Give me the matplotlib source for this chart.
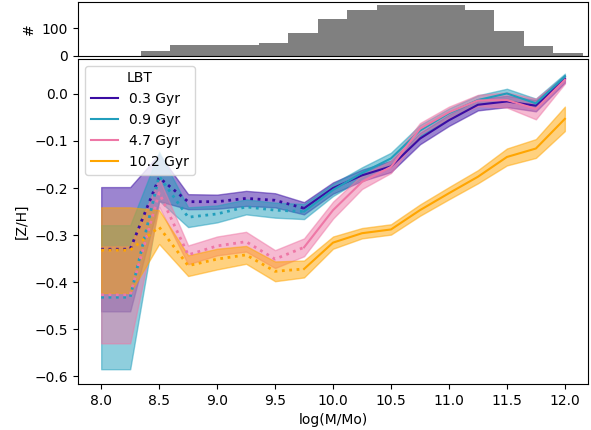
import numpy as np
import matplotlib
matplotlib.use('Agg')
import matplotlib.pyplot as plt

# mass bins
logm = [8.0, 8.25, 8.5, 8.75, 9.0, 9.25, 9.5, 9.75, 10.0, 10.25, 10.5, 10.75, 11.0, 11.25, 11.5, 11.75, 12.0]

# galaxy counts per bin (top panel)
hist_centres = [8.5, 8.75, 9.0, 9.25, 9.5, 9.75, 10.0, 10.25, 10.5, 10.75, 11.0, 11.25, 11.5, 11.75, 12.0]
hist_counts = [19, 38, 38, 38, 48, 84, 135, 167, 185, 185, 185, 167, 91, 34, 12]

labels = ['0.3 Gyr', '0.9 Gyr', '4.7 Gyr', '10.2 Gyr']
colors = ['#3a0ca3', '#219ebc', '#ee77a6', '#ffa500']

zh_03 = [-0.330, -0.330, -0.178, -0.229, -0.229, -0.222, -0.226, -0.243, -0.200, -0.173, -0.154, -0.095, -0.056, -0.023, -0.016, -0.025, 0.032]
err_03 = [0.132, 0.132, 0.050, 0.016, 0.015, 0.016, 0.015, 0.013, 0.012, 0.012, 0.012, 0.012, 0.012, 0.012, 0.012, 0.012, 0.008]

zh_09 = [-0.432, -0.432, -0.175, -0.262, -0.255, -0.240, -0.247, -0.250, -0.204, -0.168, -0.137, -0.078, -0.041, -0.013, 0.001, -0.020, 0.037]
err_09 = [0.153, 0.153, 0.052, 0.021, 0.018, 0.016, 0.016, 0.016, 0.013, 0.012, 0.012, 0.012, 0.010, 0.010, 0.010, 0.010, 0.006]

zh_47 = [-0.427, -0.427, -0.210, -0.342, -0.323, -0.314, -0.351, -0.326, -0.247, -0.187, -0.155, -0.074, -0.039, -0.014, -0.013, -0.032, 0.030]
err_47 = [0.103, 0.103, 0.030, 0.020, 0.020, 0.021, 0.019, 0.019, 0.018, 0.015, 0.013, 0.012, 0.012, 0.012, 0.016, 0.022, 0.008]

zh_102 = [-0.332, -0.332, -0.283, -0.365, -0.351, -0.342, -0.377, -0.372, -0.316, -0.296, -0.288, -0.247, -0.211, -0.176, -0.134, -0.116, -0.053]
err_102 = [0.091, 0.091, 0.036, 0.022, 0.022, 0.019, 0.021, 0.018, 0.013, 0.011, 0.011, 0.012, 0.013, 0.014, 0.018, 0.020, 0.026]

n_low = 8  # bins up to 9.75 drawn dotted

fig = plt.figure(figsize=(5.91, 4.30), dpi=100)
ax_h = fig.add_axes([0.132, 0.870, 0.863, 0.125])
ax = fig.add_axes([0.132, 0.107, 0.863, 0.756])

ax_h.bar(hist_centres, hist_counts, width=0.25, color='grey')
ax_h.set_xlim(7.84, 12.17)
ax_h.set_xticks([])
ax_h.set_yticks([0, 100])
ax_h.set_ylabel('#')

x = np.array(logm)
series = [(zh_03, err_03), (zh_09, err_09), (zh_47, err_47), (zh_102, err_102)]
for (zh, err), c, lab in zip(series, colors, labels):
    zh = np.array(zh)
    err = np.array(err)
    ax.fill_between(x, zh - err, zh + err, color=c, alpha=0.5)
    ax.plot(x[:n_low], zh[:n_low], ':', color=c, lw=2)
    ax.plot(x[n_low - 1:], zh[n_low - 1:], '-', color=c, lw=1.5, label=lab)

ax.set_xlabel('log(M/Mo)')
ax.set_ylabel('[Z/H]')
ax.legend(title='LBT', loc='upper left')

plt.savefig('out.png', dpi=100)
